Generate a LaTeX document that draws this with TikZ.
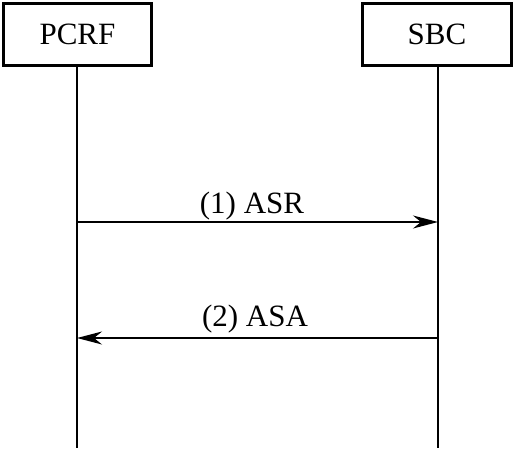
\documentclass[tikz,border=0pt]{standalone}
\usepackage{fontspec}
\setmainfont{Liberation Serif}
\usetikzlibrary{arrows.meta}
\begin{document}
\begin{tikzpicture}[x=1pt,y=-1pt,
  entity/.style={draw,line width=2.8pt,minimum width=148pt,minimum height=62pt,inner sep=0pt,font=\fontsize{31}{37}\selectfont},
  life/.style={line width=1.8pt},
  msg/.style={line width=1.6pt,-{Stealth[length=25pt,width=13pt,inset=8pt]}},
  lbl/.style={font=\fontsize{31}{37}\selectfont,inner sep=0pt,anchor=base}]
\useasboundingbox (0,0) rectangle (516,448);
\node[entity] (pcrf) at (77.5,34.5) {PCRF};
\node[entity,minimum width=149pt] (sbc) at (437,34.5) {SBC};
\coordinate (pend) at (77,448);
\coordinate (send) at (438,448);
\draw[life] (pcrf.south -| pend) -- (pend);
\draw[life] (sbc.south -| send) -- (send);
\coordinate (a1s) at (77,222);
\coordinate (a1e) at (438,222);
\coordinate (a2s) at (438,338);
\coordinate (a2e) at (77,338);
\draw[msg] (a1s) -- (a1e);
\draw[msg] (a2s) -- (a2e);
\node[lbl] (l1) at (252,213) {(1) ASR};
\node[lbl] (l2) at (255,326) {(2) ASA};
\end{tikzpicture}
\end{document}
